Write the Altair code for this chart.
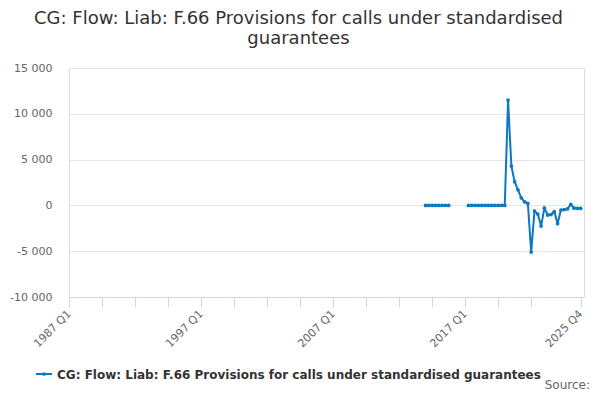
import altair as alt
import pandas as pd

TITLE_LINES = ["CG: Flow: Liab: F.66 Provisions for calls under standardised", "guarantees"]
SERIES_NAME = "CG: Flow: Liab: F.66 Provisions for calls under standardised guarantees"
SOURCE_TEXT = "Source:"
FIRST_YEAR = 1987
N_QUARTERS = 156

seg1_start = "2014 Q1"
seg1_values = [0, 0, 0, 0, 0, 0, 0, 0]
seg2_start = "2017 Q2"
seg2_values = [0, 0, 0, 0, 0, 0, 0, 0, 0, 0, 0, 0,
               11500, 4300, 2570, 1700, 830, 390, 220, -5100, -620, -950,
               -2250, -300, -1050, -1000, -680, -2000, -510, -450, -380, 100,
               -310, -320, -320]

y_ticks = [-10000, -5000, 0, 5000, 10000, 15000]
x_ticks = [0, 10, 20, 30, 40, 50, 60, 70, 80, 90, 100, 110, 120, 130, 140, 155]

quarters = [f"{FIRST_YEAR + i // 4} Q{i % 4 + 1}" for i in range(N_QUARTERS)]
rows = []
for seg, (start, vals) in enumerate([(seg1_start, seg1_values), (seg2_start, seg2_values)]):
    s = quarters.index(start)
    for k, v in enumerate(vals):
        rows.append({"idx": s + k, "quarter": quarters[s + k], "value": v, "seg": seg})
df = pd.DataFrame(rows)

COLOR = "#0b78c0"
FONT = "DejaVu Sans"

x_label_expr = ("(datum.value % 40 == 0 || datum.value == 155) ? "
                "(floor(datum.value / 4) + 1987) + ' Q' + (datum.value % 4 + 1) : ''")
y_label_expr = ("(datum.value < 0 ? '-' : '') + "
                "replace(format(abs(datum.value), ','), ',', ' ')")

x = alt.X("idx:Q",
          scale=alt.Scale(domain=[0, 156], nice=False, zero=False),
          axis=alt.Axis(values=x_ticks, labelExpr=x_label_expr, labelAngle=-45,
                        labelAlign="right", labelBaseline="middle", tickSize=10,
                        tickColor="#ccd6eb", domainColor="#ccd6eb", grid=False,
                        title=None, labelColor="#666666", labelFontSize=11,
                        labelPadding=5, labelOverlap=False, labelFlush=False,
                        labelBound=False, labelFont=FONT))
y = alt.Y("value:Q",
          scale=alt.Scale(domain=[-10000, 15000], nice=False),
          axis=alt.Axis(values=y_ticks, labelExpr=y_label_expr, ticks=False,
                        domain=False, gridColor="#e6e6e6", title=None,
                        labelColor="#666666", labelFontSize=11, labelPadding=17,
                        labelFont=FONT))

base = alt.Chart(df)
line = base.mark_line(color=COLOR, strokeWidth=2).encode(x=x, y=y, detail="seg:N")
pts = base.mark_point(filled=True, size=14, opacity=1, color=COLOR).encode(
    x=x, y=y, tooltip=["quarter:N", "value:Q"])

one = pd.DataFrame({"a": [0]})
title1 = alt.Chart(one).mark_text(text=TITLE_LINES[0], font=FONT, fontSize=18,
                                  color="#333333", align="center", baseline="alphabetic").encode(
    x=alt.value(229.5), y=alt.value(-44))
title2 = alt.Chart(one).mark_text(text=TITLE_LINES[1], font=FONT, fontSize=18,
                                  color="#333333", align="center", baseline="alphabetic").encode(
    x=alt.value(229.5), y=alt.value(-24.5))
leg_rule = alt.Chart(one).mark_rule(color=COLOR, strokeWidth=2).encode(
    x=alt.value(-33), x2=alt.value(-17), y=alt.value(306))
leg_pt = alt.Chart(one).mark_point(filled=True, size=14, opacity=1, color=COLOR).encode(
    x=alt.value(-25), y=alt.value(306))
leg_txt = alt.Chart(one).mark_text(text=SERIES_NAME, font=FONT, fontSize=12, fontWeight="bold",
                                   color="#333333", align="left", baseline="alphabetic").encode(
    x=alt.value(-12), y=alt.value(310.5))
src = alt.Chart(one).mark_text(text=SOURCE_TEXT, font=FONT, fontSize=12,
                               color="#666666", align="right", baseline="alphabetic").encode(
    x=alt.value(521), y=alt.value(321))

chart = alt.layer(line, pts, title1, title2, leg_rule, leg_pt, leg_txt, src).properties(
    width=515, height=229,
    autosize=alt.AutoSizeParams(type="none"),
    padding={"left": 61, "top": 60, "right": 8, "bottom": 95},
).configure_view(stroke=None).configure(font=FONT)

chart.save("out.html", embed_options={"renderer": "svg", "actions": False})
